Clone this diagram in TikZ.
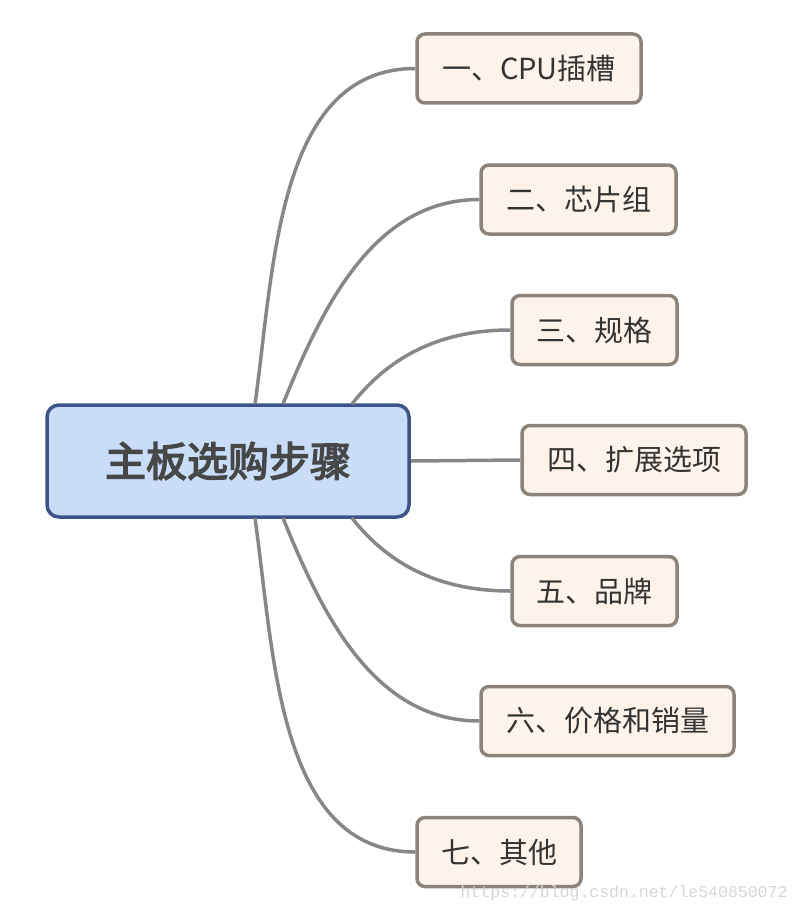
\documentclass[tikz,border=0pt]{standalone}
\usepackage{fontspec}
\newfontfamily\cjk{Noto Sans CJK SC}
\newfontfamily\cjkbold[FakeBold=3.5]{Noto Sans CJK SC}
\setmonofont{Liberation Mono}
\definecolor{rootfill}{HTML}{C9DDF8}
\definecolor{rootline}{HTML}{3B5588}
\definecolor{leaffill}{HTML}{FDF3EA}
\definecolor{leafline}{HTML}{8C837A}
\definecolor{edgegray}{HTML}{878787}
\definecolor{txt}{HTML}{333333}
\tikzset{
  rootbox/.style={draw=rootline, fill=rootfill, line width=3.5pt, rounded corners=12pt,
    minimum width=362pt, minimum height=112pt, text=black!72, font=\cjkbold\fontsize{41}{41}\selectfont},
  leaf/.style={draw=leafline, fill=leaffill, line width=3.5pt, rounded corners=8pt,
    minimum height=69pt, inner xsep=0pt, text=txt, font=\cjk\fontsize{29}{29}\selectfont},
  branch/.style={draw=edgegray, line width=3.5pt}
}
\begin{document}
\begin{tikzpicture}[x=1pt, y=-1pt]
  \useasboundingbox (0,0) rectangle (800,915);
  \node[rootbox] (root) at (228,461) {主板选购步骤};
  \node[leaf, minimum width=224pt] (c1) at (529,68.5) {一、CPU插槽};
  \node[leaf, minimum width=195pt] (c2) at (578.5,199.5) {二、芯片组};
  \node[leaf, minimum width=165pt] (c3) at (594.5,330) {三、规格};
  \node[leaf, minimum width=224pt] (c4) at (634,460) {四、扩展选项};
  \node[leaf, minimum width=165pt] (c5) at (594.5,591) {五、品牌};
  \node[leaf, minimum width=253pt] (c6) at (607.5,721) {六、价格和销量};
  \node[leaf, minimum width=164pt] (c7) at (499,852) {七、其他};
  % where the branches leave the root
  \coordinate (s1) at (255,404);
  \coordinate (s2) at (283,404);
  \coordinate (s3) at (352,404);
  \coordinate (s5) at (352,518);
  \coordinate (s6) at (283,518);
  \coordinate (s7) at (255,518);
  \begin{scope}
    \draw[branch] (s1) to[out=82, in=180, looseness=0.95] (c1.west);
    \draw[branch] (s2) to[out=68, in=180, looseness=0.95] (c2.west);
    \draw[branch] (s3) to[out=52, in=180, looseness=0.95] (c3.west);
    \draw[branch] (root.east) -- (c4.west);
    \draw[branch] (s5) to[out=-52, in=180, looseness=0.95] (c5.west);
    \draw[branch] (s6) to[out=-68, in=180, looseness=0.95] (c6.west);
    \draw[branch] (s7) to[out=-82, in=180, looseness=0.95] (c7.west);
  \end{scope}
  \node[text=black!16, font=\ttfamily\fontsize{16.5}{16.5}\selectfont, anchor=east] (mark) at (791,893) {https://blog.csdn.net/le540850072};
\end{tikzpicture}
\end{document}
